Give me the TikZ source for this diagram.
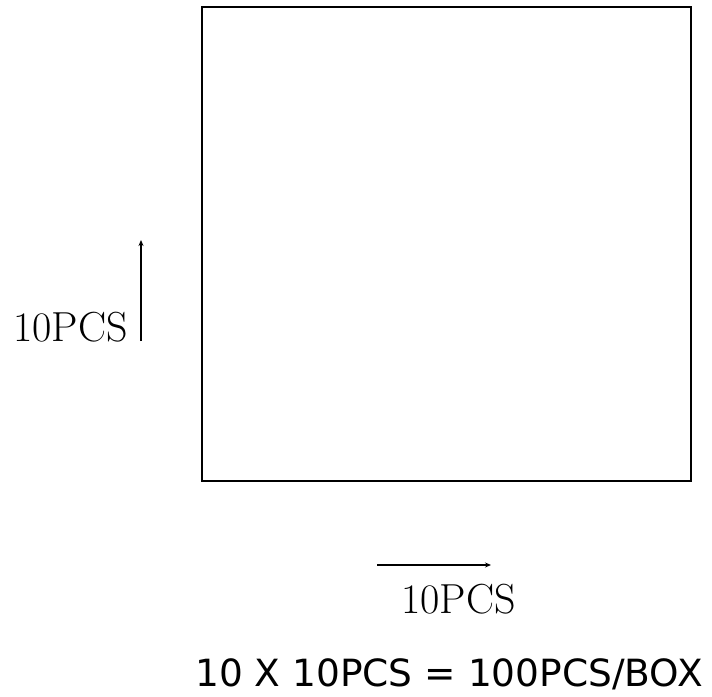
\documentclass[tikz,border=0pt]{standalone}
\usepackage{fontspec}
\newfontfamily\labelsans{DejaVu Sans}
\usetikzlibrary{arrows.meta}
\begin{document}
\begin{tikzpicture}[x=1pt,y=-1pt,
  boxline/.style={draw=black,line width=2pt},
  dimarrow/.style={draw=black,line width=1.8pt,-{Stealth[length=6pt,width=5pt]}},
  dimlabel/.style={inner sep=0pt,font=\fontsize{42}{42}\selectfont},
  totallabel/.style={inner sep=0pt,font=\labelsans\fontsize{37.5}{37.5}\selectfont}]
\useasboundingbox (0,0) rectangle (712,696);
\node[boxline,minimum width=489pt,minimum height=474pt,inner sep=0pt,anchor=north west] (box) at (201,6) {};
\coordinate (va) at (141,341);
\coordinate (vb) at (141,240);
\draw[dimarrow] (va) -- (vb);
\node[dimlabel,anchor=base east] (vlabel) at (128,341) {10PCS};
\coordinate (ha) at (377,565);
\coordinate (hb) at (491,565);
\draw[dimarrow] (ha) -- (hb);
\node[dimlabel,anchor=base west] (hlabel) at (401,613) {10PCS};
\node[totallabel,anchor=base] (total) at (449,686) {10 X 10PCS = 100PCS/BOX};
\end{tikzpicture}
\end{document}
